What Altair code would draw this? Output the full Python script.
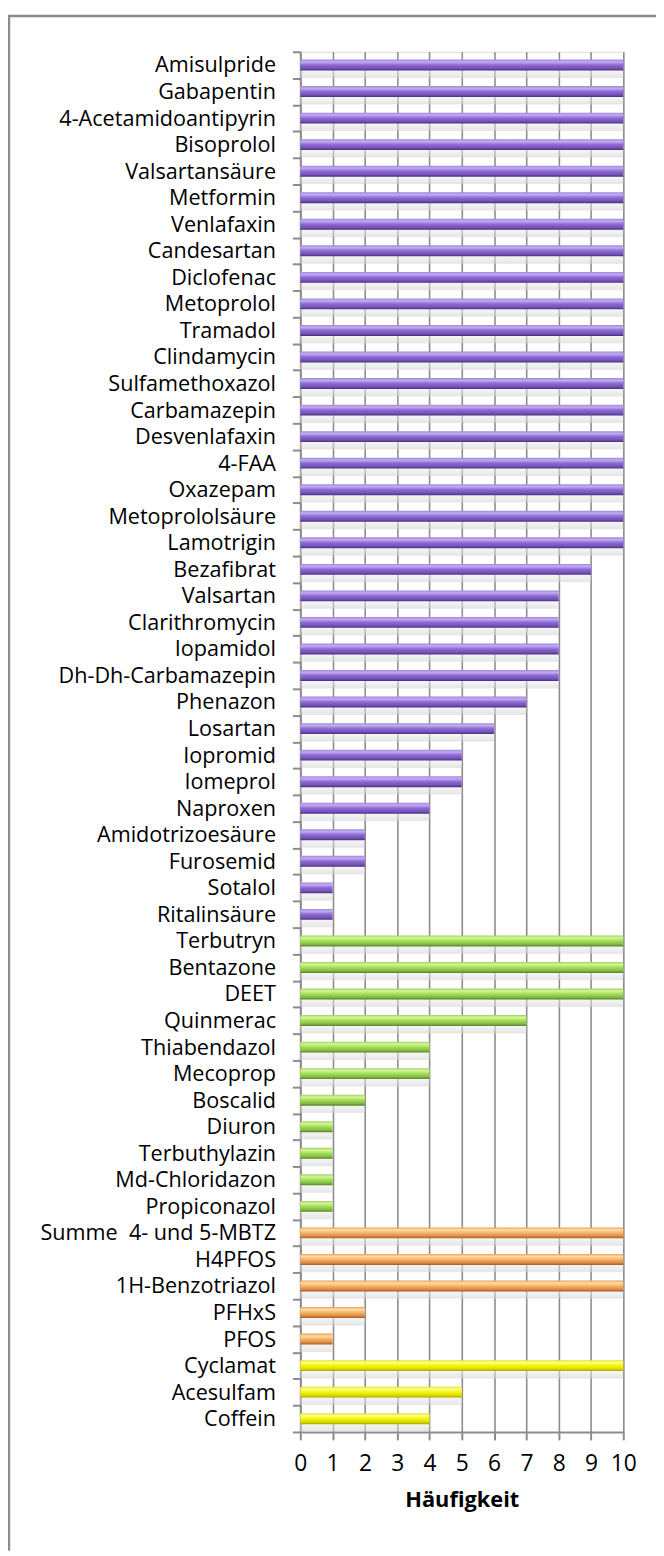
import altair as alt
import pandas as pd

purple_names = ["Amisulpride", "Gabapentin", "4-Acetamidoantipyrin", "Bisoprolol", "Valsartansäure",
                "Metformin", "Venlafaxin", "Candesartan", "Diclofenac", "Metoprolol", "Tramadol",
                "Clindamycin", "Sulfamethoxazol", "Carbamazepin", "Desvenlafaxin", "4-FAA", "Oxazepam",
                "Metoprololsäure", "Lamotrigin", "Bezafibrat", "Valsartan", "Clarithromycin", "Iopamidol",
                "Dh-Dh-Carbamazepin", "Phenazon", "Losartan", "Iopromid", "Iomeprol", "Naproxen",
                "Amidotrizoesäure", "Furosemid", "Sotalol", "Ritalinsäure"]
purple_vals = [10, 10, 10, 10, 10, 10, 10, 10, 10, 10, 10, 10, 10, 10, 10, 10, 10, 10, 10,
               9, 8, 8, 8, 8, 7, 6, 5, 5, 4, 2, 2, 1, 1]
green_names = ["Terbutryn", "Bentazone", "DEET", "Quinmerac", "Thiabendazol", "Mecoprop", "Boscalid",
               "Diuron", "Terbuthylazin", "Md-Chloridazon", "Propiconazol"]
green_vals = [10, 10, 10, 7, 4, 4, 2, 1, 1, 1, 1]
orange_names = ["Summe \u00a04- und 5-MBTZ", "H4PFOS", "1H-Benzotriazol", "PFHxS", "PFOS"]
orange_vals = [10, 10, 10, 2, 1]
yellow_names = ["Cyclamat", "Acesulfam", "Coffein"]
yellow_vals = [10, 5, 4]
x_ticks = [0, 1, 2, 3, 4, 5, 6, 7, 8, 9, 10]

groups = [("purple", purple_names, purple_vals), ("green", green_names, green_vals),
          ("orange", orange_names, orange_vals), ("yellow", yellow_names, yellow_vals)]
rows = []
for g, names, vals in groups:
    for n, v in zip(names, vals):
        rows.append({"name": n, "value": v, "group": g})
df = pd.DataFrame(rows)
cats = list(df["name"])

FONT = "Open Sans"
FS = 23
GRAY = "#8c8c8c"
W, H = 326, 1393

gradients = {
    "purple": ["#a286dc", "#c2acf0", "#8e6ad4", "#7452b8", "#46307a"],
    "green": ["#a2d25a", "#d4f59a", "#a4de58", "#84bc42", "#567f28"],
    "orange": ["#eaa05a", "#ffdca4", "#f6b46a", "#e08a42", "#a05a26"],
    "yellow": ["#e2e21c", "#ffff90", "#f6f600", "#dada00", "#a4a400"],
}
offsets = [0, 0.22, 0.5, 0.8, 1]

y_enc = alt.Y("name:N", sort=None,
              scale=alt.Scale(domain=cats, paddingInner=0, paddingOuter=0),
              axis=alt.Axis(title=None, labelFont=FONT, labelFontSize=21.8, labelColor="black",
                            tickColor=GRAY, tickSize=8, tickWidth=2, tickBand="extent",
                            domainColor=GRAY, domainWidth=2, labelPadding=17, grid=False,
                            labelLimit=400))
x_enc = alt.X("value:Q",
              scale=alt.Scale(domain=[0, 10], nice=False),
              axis=alt.Axis(values=x_ticks, title="Häufigkeit", titleFont=FONT, titleFontSize=FS - 1,
                            titleFontWeight="bold", titleColor="black", titlePadding=14,
                            labelFont=FONT, labelFontSize=FS, labelColor="black", labelPadding=13,
                            labelFlush=False, labelOverlap=False,
                            tickColor=GRAY, tickSize=8, tickWidth=2, domainColor=GRAY, domainWidth=2,
                            grid=True, gridColor=GRAY, gridWidth=1.6, format="d"))

base = alt.Chart(df)

shadow = base.mark_bar(
    size=12, yOffset=7, opacity=0.55,
    color=alt.Gradient(gradient="linear", x1=0, x2=0, y1=0, y2=1,
                       stops=[alt.GradientStop(offset=0, color="#ffffff"),
                              alt.GradientStop(offset=1, color="#d0d0d0")])
).encode(x=x_enc, y=y_enc)

layers = [shadow]
for g, _, _ in groups:
    cols = gradients[g]
    layers.append(
        base.transform_filter(alt.datum.group == g).mark_bar(
            size=11,
            color=alt.Gradient(gradient="linear", x1=0, x2=0, y1=0, y2=1,
                               stops=[alt.GradientStop(offset=o, color=c) for o, c in zip(offsets, cols)])
        ).encode(x=x_enc, y=y_enc)
    )

frame_df = pd.DataFrame({"k": [0]})
left_border = alt.Chart(frame_df).mark_rule(color=GRAY, strokeWidth=2.5).encode(
    x=alt.value(-294), y=alt.value(-37), y2=alt.value(H + 120))
top_border = alt.Chart(frame_df).mark_rule(color=GRAY, strokeWidth=2.5).encode(
    x=alt.value(-295), x2=alt.value(W + 40), y=alt.value(-36))

chart = alt.layer(*layers, left_border, top_border).properties(
    width=W, height=H,
    padding={"left": 295, "top": 37, "right": 33, "bottom": 116},
    autosize=alt.AutoSizeParams(type="none"),
).configure_view(strokeWidth=0).configure(background="white")

chart.save("out.html", embed_options={"renderer": "svg", "actions": False})
